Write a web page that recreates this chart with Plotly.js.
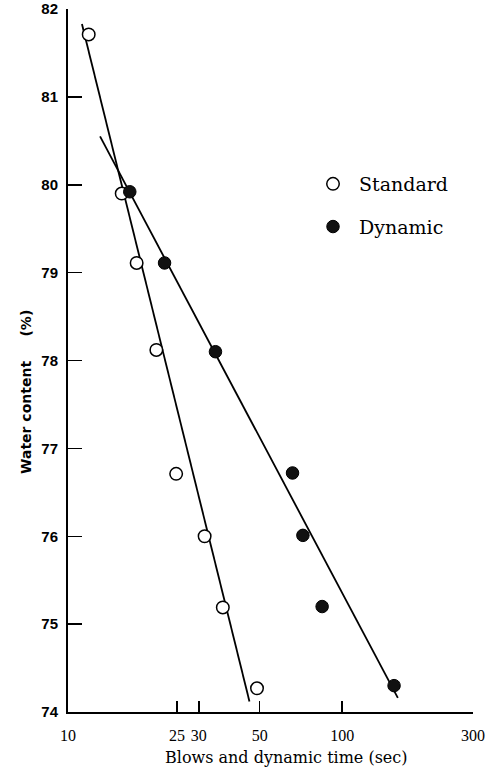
<!DOCTYPE html>
<html>
<head>
<meta charset="utf-8">
<script src="https://cdn.plot.ly/plotly-3.0.1.min.js"></script>
<style>html,body{margin:0;padding:0;background:#fff;}#chart{width:501px;height:769px;}</style>
</head>
<body>
<div id="chart"></div>
<script>
// Standard test: blows vs water content (%)
const stdBlows = [11.9, 15.7, 17.8, 21.0, 24.8, 31.5, 36.7, 48.9];
const stdWater = [81.71, 79.90, 79.11, 78.12, 76.71, 76.00, 75.19, 74.27];
// Dynamic test: time (sec) vs water content (%)
const dynTime = [16.8, 22.5, 34.5, 65.9, 71.9, 84.5, 154.6];
const dynWater = [79.92, 79.11, 78.10, 76.72, 76.01, 75.20, 74.30];
// Fitted straight lines (end points)
const stdFitX = [11.24, 45.9];
const stdFitY = [81.83, 74.12];
const dynFitX = [13.09, 159.6];
const dynFitY = [80.55, 74.16];
// Axis ticks
const xTickVals = [10, 25, 30, 50, 100, 300];
const xTickText = ['10', '25', '30', '50', '100', '300'];
const yTickVals = [74, 75, 76, 77, 78, 79, 80, 81, 82];

const L = 68, T = 9, PW = 405, PH = 703;
const W = 501, H = 769;

const traces = [
  {x: stdFitX, y: stdFitY, mode: 'lines', line: {color: '#000', width: 1.8}, showlegend: false, hoverinfo: 'skip'},
  {x: dynFitX, y: dynFitY, mode: 'lines', line: {color: '#000', width: 1.8}, showlegend: false, hoverinfo: 'skip'},
  {x: stdBlows, y: stdWater, mode: 'markers', name: '\u00a0Standard', legendgroup: 'a',
   marker: {symbol: 'circle', size: 12.5, color: '#fff', line: {color: '#000', width: 1.5}}},
  {x: dynTime, y: dynWater, mode: 'markers', name: '\u00a0Dynamic', legendgroup: 'b',
   marker: {symbol: 'circle', size: 12.5, color: '#111', line: {color: '#000', width: 1}}}
];

const layout = {
  width: W, height: H,
  margin: {l: L, t: T, r: W - L - PW, b: H - T - PH},
  paper_bgcolor: '#fff', plot_bgcolor: '#fff',
  showlegend: true,
  legend: {
    x: (313 - L) / PW, y: (T + PH - 165) / PH, xanchor: 'left', yanchor: 'top',
    font: {family: 'DejaVu Serif', size: 19, color: '#000'},
    traceorder: 'grouped', tracegroupgap: 15, bgcolor: 'rgba(0,0,0,0)', borderwidth: 0
  },
  xaxis: {
    type: 'log', range: [1, Math.log10(300)],
    tickmode: 'array', tickvals: xTickVals, ticktext: xTickText,
    ticks: 'inside', ticklen: 11, tickwidth: 1.5, tickcolor: '#000',
    showline: true, linewidth: 2, linecolor: '#000',
    showgrid: false, zeroline: false, mirror: false,
    ticklabelstandoff: 8,
    tickfont: {family: 'Liberation Serif', size: 16, color: '#000'}
  },
  yaxis: {
    range: [74, 82],
    tickmode: 'array', tickvals: yTickVals,
    ticks: 'inside', ticklen: 14, tickwidth: 1.5, tickcolor: '#000',
    showline: true, linewidth: 2, linecolor: '#000',
    showgrid: false, zeroline: false, mirror: false,
    ticklabelstandoff: 5,
    tickfont: {family: 'Liberation Sans', size: 15, color: '#000', weight: 'bold'}
  },
  annotations: [
    {text: 'Water content\u00a0\u00a0\u00a0\u00a0\u00a0(%)', textangle: -90,
     xref: 'paper', yref: 'paper', x: (26 - L) / PW, y: (T + PH - 392) / PH,
     xanchor: 'center', yanchor: 'middle', showarrow: false,
     font: {family: 'DejaVu Sans', size: 14, color: '#000', weight: 'bold'}},
    {text: 'Blows and dynamic time (sec)',
     xref: 'paper', yref: 'paper', x: (286 - L) / PW, y: (T + PH - 757) / PH,
     xanchor: 'center', yanchor: 'middle', showarrow: false,
     font: {family: 'DejaVu Serif', size: 16, color: '#000'}}
  ]
};

Plotly.newPlot('chart', traces, layout, {displayModeBar: false, staticPlot: true});
</script>
</body>
</html>
